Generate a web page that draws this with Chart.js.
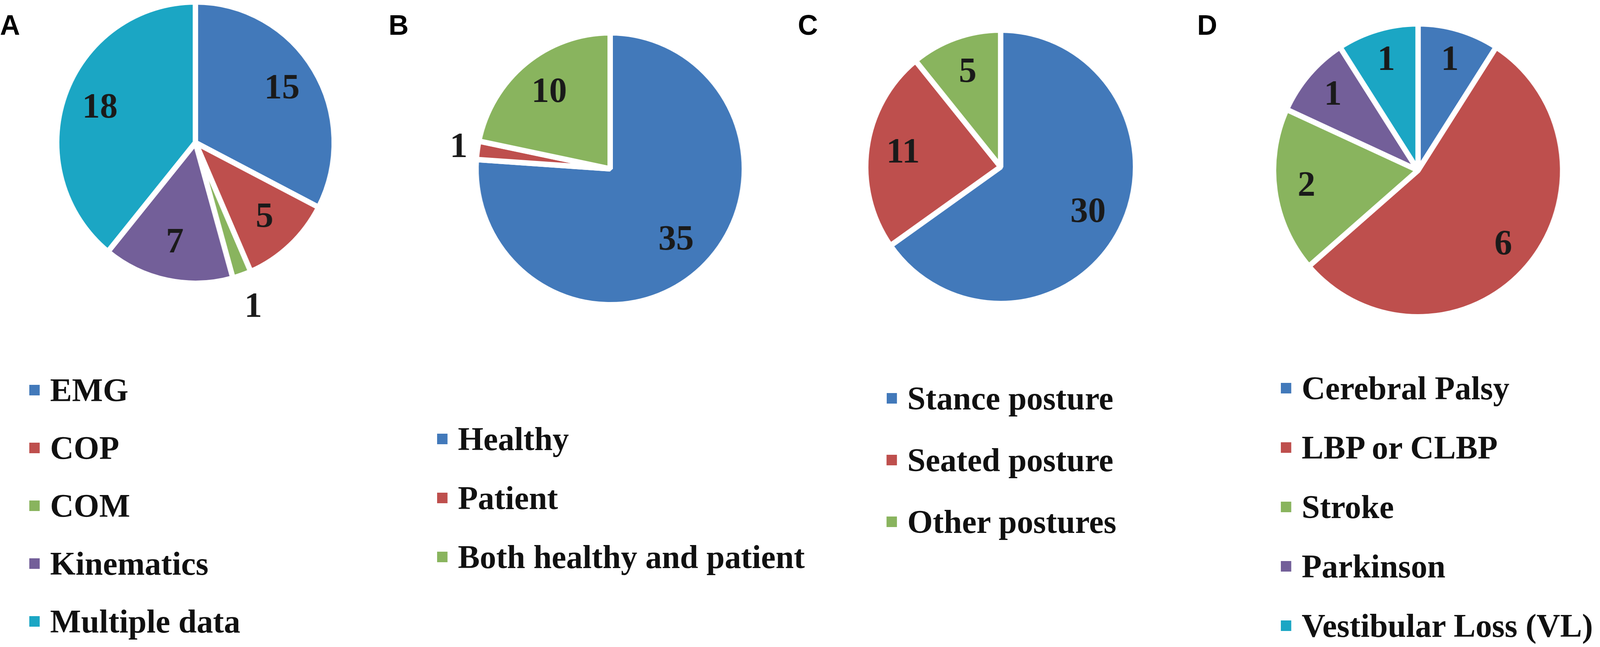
<!DOCTYPE html>
<html>
<head>
<meta charset="utf-8">
<script src="https://cdn.jsdelivr.net/npm/chart.js@4/dist/chart.umd.min.js"></script>
<style>
  html, body { margin: 0; padding: 0; background: #fff; overflow: hidden; }
  #stage { width: 4151px; height: 1656px; position: absolute; left: 0; top: 0; overflow: hidden; transform-origin: 0 0; }
  canvas { position: absolute; }
  .letter { position: absolute; font: bold 72px "Liberation Sans", Arial, sans-serif; color: #000; line-height: 1; }
  .item { position: absolute; display: flex; align-items: center; height: 85px; width: 1200px;
          font: bold 85px "Liberation Serif", "Times New Roman", serif; line-height: 85px; color: #111; white-space: nowrap; }
  .item i { display: inline-block; width: 27px; height: 27px; margin-right: 27px; flex: none; }
  .item span { display: inline-block; flex: none; transform-origin: 0 50%; }
</style>
</head>
<body>
<div id="stage">
<div class="letter" style="left:0px;top:28px">A</div>
<div class="letter" style="left:1008px;top:28px">B</div>
<div class="letter" style="left:2070px;top:28px">C</div>
<div class="letter" style="left:3106px;top:28px">D</div>

<canvas id="chartA" width="1100" height="1100"></canvas>
<canvas id="chartB" width="1100" height="1100"></canvas>
<canvas id="chartC" width="1100" height="1100"></canvas>
<canvas id="chartD" width="1100" height="1100"></canvas>
</div>

<script>
// ---- data ----
const dataTypes = ["EMG", "COP", "COM", "Kinematics", "Multiple data"];
const dataTypeCounts = [15, 5, 1, 7, 18];

const subjects = ["Healthy", "Patient", "Both healthy and patient"];
const subjectCounts = [35, 1, 10];

const postures = ["Stance posture", "Seated posture", "Other postures"];
const postureCounts = [30, 11, 5];

const patients = ["Cerebral Palsy", "LBP or CLBP", "Stroke", "Parkinson", "Vestibular Loss (VL)"];
const patientCounts = [1, 6, 2, 1, 1];

const palette = ["#4279BA", "#BE4F4D", "#89B45E", "#735F99", "#1BA6C4"];

const W = 4151, H = 1656;
const SIZE = 1100;   // canvas side
const BORDER = 14;   // white gap between slices
const PAGE_RIGHT = 4148;
const LEGEND_FONT = 'bold 85px "Liberation Serif", "Times New Roman", serif';

const stage = document.getElementById("stage");
// fit the fixed-size figure to whatever viewport we actually get
stage.style.transform = "scale(" + (window.innerWidth / W) + "," + (window.innerHeight / H) + ")";

// value labels drawn on (or just outside) each slice
const sliceLabels = {
  id: "sliceLabels",
  afterDatasetsDraw(chart, args, opts) {
    const ctx = chart.ctx;
    const values = chart.data.datasets[0].data;
    const total = values.reduce((a, b) => a + b, 0);
    ctx.save();
    ctx.font = 'bold 92px "Liberation Serif", "Times New Roman", serif';
    ctx.fillStyle = "#1a1a1a";
    ctx.textAlign = "center";
    ctx.textBaseline = "middle";
    chart.getDatasetMeta(0).data.forEach((arc, i) => {
      const p = arc.getProps(["x", "y", "startAngle", "endAngle", "outerRadius"], true);
      const mid = (p.startAngle + p.endAngle) / 2;
      const f = values[i] / total < 0.04 ? opts.outside : opts.inside;
      ctx.fillText(values[i], p.x + Math.cos(mid) * p.outerRadius * f, p.y + Math.sin(mid) * p.outerRadius * f);
    });
    ctx.restore();
  }
};

function makePie(id, labels, counts, cx, cy, radius, inside, outside) {
  const el = document.getElementById(id);
  el.style.left = (cx - SIZE / 2) + "px";
  el.style.top = (cy - SIZE / 2) + "px";
  const side = 2 * (radius + BORDER);
  return new Chart(el, {
    type: "pie",
    data: {
      labels: labels,
      datasets: [{
        data: counts,
        backgroundColor: palette.slice(0, counts.length),
        borderColor: "#ffffff",
        borderWidth: BORDER
      }]
    },
    options: {
      responsive: false,
      animation: false,
      devicePixelRatio: 1,
      layout: { padding: (SIZE - side) / 2 },
      plugins: {
        legend: { display: false },
        tooltip: { enabled: false },
        sliceLabels: { inside: inside, outside: outside }
      }
    },
    plugins: [sliceLabels]
  });
}

const measureCtx = document.createElement("canvas").getContext("2d");

function makeLegend(labels, left, firstCenter, gap) {
  measureCtx.font = LEGEND_FONT;
  labels.forEach((text, i) => {
    const row = document.createElement("div");
    row.className = "item";
    row.style.left = left + "px";
    row.style.top = (firstCenter - 42 + i * gap) + "px";
    const box = document.createElement("i");
    box.style.background = palette[i];
    const span = document.createElement("span");
    span.textContent = text;
    // squeeze a label that would run past the page edge
    const avail = PAGE_RIGHT - (left + 54);
    const w = measureCtx.measureText(text).width;
    if (w > avail) span.style.transform = "scaleX(" + (avail / w).toFixed(3) + ")";
    row.appendChild(box);
    row.appendChild(span);
    stage.appendChild(row);
  });
}

makePie("chartA", dataTypes, dataTypeCounts, 507, 365, 353, 0.73, 1.245);
makePie("chartB", subjects, subjectCounts, 1583, 432, 341, 0.72, 1.14);
makePie("chartC", postures, postureCounts, 2596, 427, 343, 0.73, 1.2);
makePie("chartD", patients, patientCounts, 3679, 436, 368, 0.78, 1.2);

makeLegend(dataTypes, 76, 998, 148);
makeLegend(subjects, 1134, 1123, 151);
makeLegend(postures, 2300, 1019, 158);
makeLegend(patients, 3323, 993, 152);
</script>
</body>
</html>
